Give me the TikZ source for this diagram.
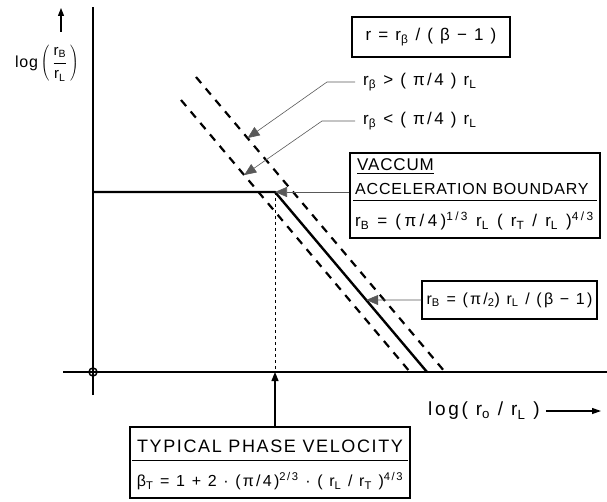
\documentclass[tikz,border=0pt]{standalone}
\usepackage{fontspec}
\setmainfont{Liberation Sans}[LetterSpace=5]
\newfontfamily\wide{Liberation Sans}[LetterSpace=14]
\newfontfamily\wider{Liberation Sans}[LetterSpace=20]
\newfontfamily\midsp{Liberation Sans}[LetterSpace=9]
\usetikzlibrary{arrows.meta}
\newcommand{\lsub}[1]{\textsubscript{#1}}
\newcommand{\lsup}[1]{\textsuperscript{#1}}
\begin{document}
\begin{tikzpicture}[x=1pt,y=-1pt,
  axis/.style={line width=1.2pt},
  curve/.style={line width=2.4pt},
  dsh/.style={line width=2.2pt, dash pattern=on 8pt off 7pt},
  leader/.style={line width=0.6pt, black!65},
  tip/.style={-{Triangle[length=12pt,width=10pt]}},
  box/.style={draw, line width=1.2pt, inner sep=0pt},
  txt/.style={inner sep=0pt, font=\fontsize{16}{19}\selectfont},
  wtxt/.style={inner sep=0pt, font=\wide\fontsize{17}{20}\selectfont},
  big/.style={inner sep=0pt, font=\midsp\fontsize{18}{21}\selectfont},
]
\useasboundingbox (0,0) rectangle (607,502);
% axes
\coordinate (ytop) at (93,7);
\coordinate (ybot) at (93,395);
\coordinate (xl) at (63,372);
\coordinate (xr) at (607,372);
\coordinate (O) at (93,372);
\draw[axis] (ybot) -- (ytop);
\draw[axis] (xl) -- (xr);
\draw[line width=1.5pt] (O) circle[radius=4pt];
% curves
\coordinate (fstart) at (93,192);
\coordinate (knee) at (275,192);
\coordinate (sbot) at (427,372);
\coordinate (rtop) at (196,77);
\coordinate (rbot) at (445,372);
\coordinate (ltop) at (181,100);
\coordinate (lbot) at (410,372);
\draw[curve, line join=miter] (fstart) -- (knee) -- (sbot);
\draw[dsh] (rtop) -- (rbot);
\draw[dsh] (ltop) -- (lbot);
\path (rtop) -- (rbot) coordinate[pos=0.207] (tipA);
\path (ltop) -- (lbot) coordinate[pos=0.276] (tipB);
\path (knee) -- (sbot) coordinate[pos=0.6] (tipC);
\draw[line width=1pt, dash pattern=on 3pt off 3pt] (knee) -- (knee |- O);
% axis labels
\coordinate (ya1) at (61,32);
\coordinate (ya2) at (61,8);
\draw[line width=1.2pt, -{Triangle[length=8pt,width=6pt]}] (ya1) -- (ya2);
\node[txt] (ylab) at (47,63) {log\,$\displaystyle\left(\,\frac{\mbox{\fontsize{15}{17}\selectfont r\lsub{B}}}{\mbox{\fontsize{15}{17}\selectfont r\lsub{L}}}\,\right)$};
\node[wtxt, font=\wide\fontsize{19}{22}\selectfont, anchor=west] (xlab) at (428,411) {log( r\lsub{o} / r\lsub{L} )};
\coordinate (xa) at (601,411);
\draw[line width=1.2pt, -{Triangle[length=9pt,width=6pt]}] ([xshift=6pt]xlab.east) -- (xa);
% top box
\node[box, minimum width=158pt, minimum height=40pt, wtxt] (rbox) at (431,37) {r = r\lsub{β} / ( β − 1 )};
% inequality labels
\node[wtxt, anchor=west] (lgt) at (363,82) {r\lsub{β} > ( π/4 ) r\lsub{L}};
\node[wtxt, anchor=west] (llt) at (363,121) {r\lsub{β} < ( π/4 ) r\lsub{L}};
\draw[leader, tip] ([xshift=-8pt]lgt.west) -- ([xshift=-36pt]lgt.west) -- (tipA);
\draw[leader, tip] ([xshift=-8pt]llt.west) -- ([xshift=-41pt]llt.west) -- (tipB);
% vacuum box
\node[box, minimum width=250pt, minimum height=85pt] (vbox) at (475,195.5) {};
\node[txt, font=\fontsize{17}{20}\selectfont, anchor=west] (vac) at (357,165) {VACCUM};
\draw[line width=1pt] ([yshift=-2pt]vac.south west) -- ([yshift=-2pt]vac.south east);
\node[txt, anchor=west] (acc) at (355,189) {ACCELERATION BOUNDARY};
\coordinate (vsl) at (353,201);
\coordinate (vsr) at (597,201);
\draw[line width=1pt] (vsl) -- (vsr);
\node[inner sep=0pt, font=\wider\fontsize{17}{20}\selectfont, anchor=west] (vform) at (355,221) {r\lsub{B} = (π/4)\lsup{1/3} r\lsub{L} ( r\lsub{T} / r\lsub{L} )\lsup{4/3}};
\draw[leader, tip] (vbox.west |- knee) -- (knee);
% pbox
\node[box, minimum width=175pt, minimum height=38pt, wtxt, font=\wide\fontsize{16}{19}\selectfont] (pbox) at (509.5,300) {r\lsub{B} = (π/\lsub{2}) r\lsub{L} / (β − 1)};
\draw[leader, tip] (pbox.west) -- (tipC);
% typical box
\node[box, minimum width=280pt, minimum height=71pt] (tbox) at (270,462.5) {};
\node[big] (ttl) at (270,446) {TYPICAL PHASE VELOCITY};
\coordinate (tsl) at (132,460);
\coordinate (tsr) at (408,460);
\draw[line width=1pt] (tsl) -- (tsr);
\node[wtxt, font=\wide\fontsize{16}{19}\selectfont] (tform) at (270,481) {β\lsub{T} = 1 + 2 · (π/4)\lsup{2/3} · ( r\lsub{L} / r\lsub{T} )\lsup{4/3}};
\draw[line width=1.2pt, -{Triangle[length=9pt,width=7pt]}] (tbox.north -| knee) -- (knee |- O);
\end{tikzpicture}
\end{document}
